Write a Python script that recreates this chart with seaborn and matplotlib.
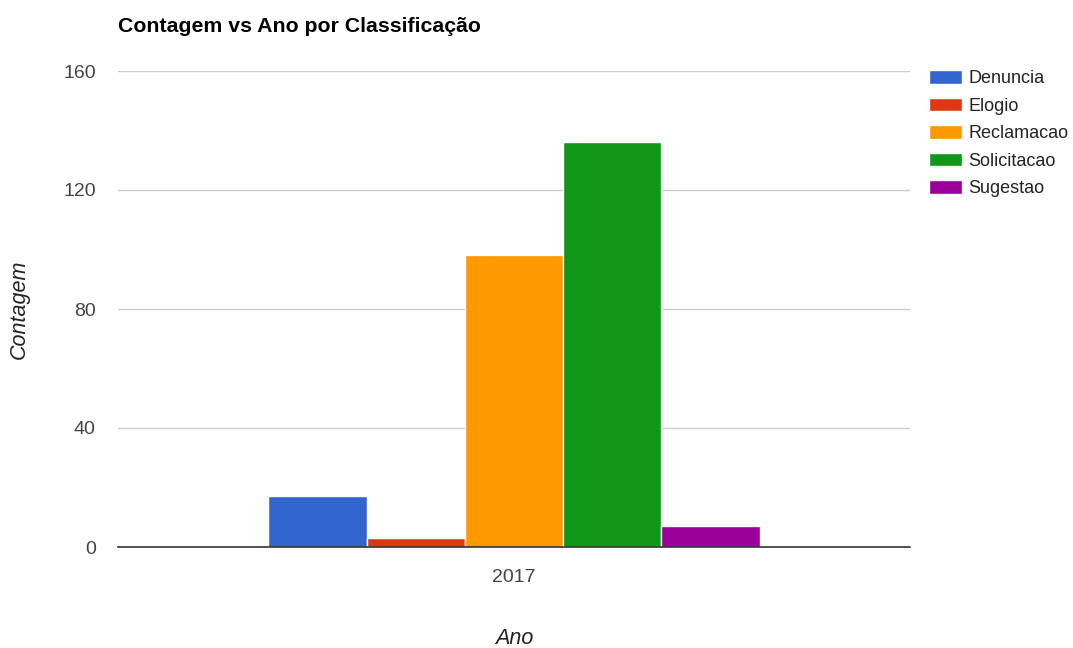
import matplotlib
matplotlib.use("Agg")
import matplotlib.pyplot as plt
import seaborn as sns
import pandas as pd

anos = ["2017"]
classificacoes = ["Denuncia", "Elogio", "Reclamacao", "Solicitacao", "Sugestao"]
contagens = [17, 3, 98, 136, 7]
cores = ["#3366cc", "#dc3912", "#ff9900", "#109618", "#990099"]

df = pd.DataFrame({
    "Ano": anos * len(classificacoes),
    "Classificacao": classificacoes,
    "Contagem": contagens,
})

sns.set_theme(style="white")
plt.rcParams["font.family"] = ["Liberation Sans", "DejaVu Sans"]

fig = plt.figure(figsize=(10.73, 6.48), dpi=100)
ax = fig.add_axes([118 / 1073, 1 - 547 / 648, (910 - 118) / 1073, (547 - 71) / 648])

sns.barplot(data=df, x="Ano", y="Contagem", hue="Classificacao",
            hue_order=classificacoes, palette=cores, width=0.62,
            edgecolor="white", linewidth=1, saturation=1, ax=ax, legend=True)

ax.set_xlim(-0.5, 0.5)
ax.set_ylim(0, 160)
ax.set_yticks([0, 40, 80, 120, 160])
ax.grid(axis="y", color="#cccccc", linewidth=1)
ax.set_axisbelow(True)
for s in ["top", "right", "left"]:
    ax.spines[s].set_visible(False)
ax.spines["bottom"].set_color("#333333")
ax.spines["bottom"].set_linewidth(1.2)
ax.tick_params(axis="both", length=0, labelsize=14, colors="#444444")
ax.tick_params(axis="y", pad=16)
ax.tick_params(axis="x", pad=16)

ax.set_xlabel("Ano", fontsize=15.5, style="italic", color="#222222")
ax.set_ylabel("Contagem", fontsize=15.5, style="italic", color="#222222")
ax.xaxis.set_label_coords(0.5, (547 - 628) / 476)
ax.yaxis.set_label_coords((30 - 118) / 792, 0.5)

fig.text(118 / 1073, 1 - 26 / 648, "Contagem vs Ano por Classificação",
         fontsize=15.3, fontweight="bold", color="#000000", va="center", ha="left")

handles, labels = ax.get_legend_handles_labels()
ax.legend(handles, labels, loc="upper left", bbox_to_anchor=(929 / 1073, 1 - 70 / 648),
          bbox_transform=fig.transFigure, frameon=False, fontsize=13,
          handlelength=1.83, handleheight=0.78, handletextpad=0.33, labelspacing=0.58,
          borderaxespad=0, borderpad=0, labelcolor="#222222")

fig.savefig("out.png", dpi=100)
